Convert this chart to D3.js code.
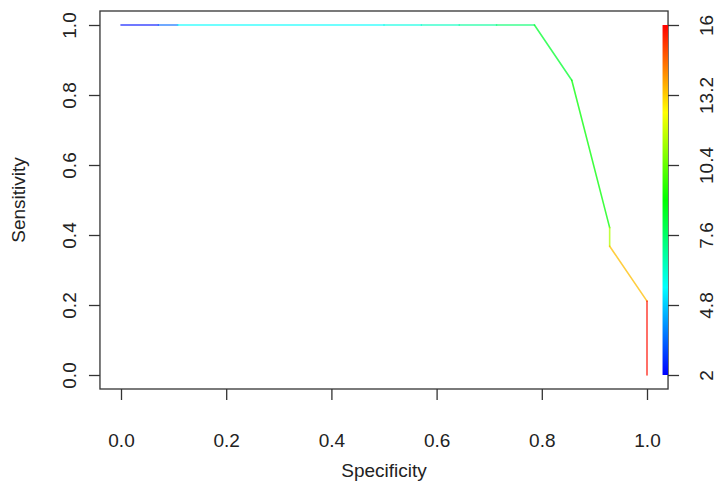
<!DOCTYPE html>
<html><head><meta charset="utf-8">
<script src="https://cdn.jsdelivr.net/npm/d3@7"></script>
<style>body{margin:0;background:#fff} text{font-family:"Liberation Sans",Arial,Helvetica,sans-serif;fill:#222}</style>
</head><body><svg id="c" width="717" height="492"></svg>
<script>
// ROC curve points (specificity, sensitivity), ordered from specificity 0 to 1
const specificity = [0, 0.071, 0.108, 0.5, 0.571, 0.643, 0.714, 0.786, 0.857, 0.929, 0.929, 1, 1];
const sensitivity = [1, 1, 1, 1, 1, 1, 1, 1, 0.842, 0.421, 0.368, 0.211, 0];
// cutoff value coloring each segment (between point i and i+1)
const segmentCutoff = [2.2, 3.4, 5.5, 5.9, 6.4, 6.9, 7.5, 8.4, 9.0, 11.4, 13.4, 15.8];
const xTicks = [0, 0.2, 0.4, 0.6, 0.8, 1.0];
const yTicks = [0, 0.2, 0.4, 0.6, 0.8, 1.0];
const cutoffTicks = [2, 4.8, 7.6, 10.4, 13.2, 16];
const cutoffRange = [2, 16];

const svg = d3.select("#c");
const x = d3.scaleLinear().domain([0, 1]).range([121, 647]);
const y = d3.scaleLinear().domain([0, 1]).range([375, 25]);
const cy = d3.scaleLinear().domain(cutoffRange).range([375, 25]);
const hue = d3.scaleLinear().domain(cutoffRange).range([240, 0]);
const col = v => d3.hsl(hue(v), 1, 0.5).toString();
const fs = 19;

// box
const bx0 = x(-0.04), bx1 = x(1.04), by0 = y(1.04), by1 = y(-0.04);
svg.append("rect").attr("x", bx0).attr("y", by0).attr("width", bx1 - bx0).attr("height", by1 - by0)
  .attr("fill", "none").attr("stroke", "#333").attr("stroke-width", 1.3);

// x axis
const gx = svg.append("g").attr("transform", `translate(0,${by1})`)
  .call(d3.axisBottom(x).tickValues(xTicks).tickFormat(d3.format(".1f")).tickSize(11));
gx.select(".domain").remove();
gx.selectAll("line").attr("stroke", "#333").attr("stroke-width", 1.3);
gx.selectAll("text").attr("font-size", fs).attr("fill", "#222").attr("dy", null).attr("y", 51).attr("dominant-baseline", "central");

// y axis
const gy = svg.append("g").attr("transform", `translate(${bx0},0)`)
  .call(d3.axisLeft(y).tickValues(yTicks).tickFormat(d3.format(".1f")).tickSize(11));
gy.select(".domain").remove();
gy.selectAll("line").attr("stroke", "#333").attr("stroke-width", 1.3);
gy.selectAll("text").attr("font-size", fs).attr("fill", "#222").attr("x", null).attr("dy", null)
  .attr("text-anchor", "middle").attr("dominant-baseline", "central")
  .attr("transform", "translate(-30,0) rotate(-90)");

// colorbar
const grad = svg.append("defs").append("linearGradient").attr("id", "rb")
  .attr("x1", 0).attr("y1", 1).attr("x2", 0).attr("y2", 0);
d3.range(0, 1.0001, 0.05).forEach(t => {
  grad.append("stop").attr("offset", t).attr("stop-color", col(cutoffRange[0] + t * (cutoffRange[1] - cutoffRange[0])));
});
svg.append("rect").attr("x", bx1 - 5.5).attr("y", cy(cutoffRange[1])).attr("width", 5.5)
  .attr("height", cy(cutoffRange[0]) - cy(cutoffRange[1])).attr("fill", "url(#rb)");

const gc = svg.append("g").attr("transform", `translate(${bx1},0)`)
  .call(d3.axisRight(cy).tickValues(cutoffTicks).tickFormat(d => String(d)).tickSize(11));
gc.select(".domain").remove();
gc.selectAll("line").attr("stroke", "#333").attr("stroke-width", 1.3);
gc.selectAll("text").attr("font-size", fs).attr("fill", "#222").attr("x", null).attr("dy", null)
  .attr("text-anchor", "middle").attr("dominant-baseline", "central")
  .attr("transform", "translate(38,0) rotate(-90)");

// curve
const segs = d3.range(specificity.length - 1);
svg.append("g").selectAll("line").data(segs).join("line")
  .attr("x1", i => x(specificity[i])).attr("y1", i => y(sensitivity[i]))
  .attr("x2", i => x(specificity[i + 1])).attr("y2", i => y(sensitivity[i + 1]))
  .attr("stroke", i => col(segmentCutoff[i])).attr("stroke-width", 1.6).attr("stroke-linecap", "round")
  .attr("stroke-opacity", 0.75);

// labels
svg.append("text").attr("x", 384).attr("y", 470).attr("text-anchor", "middle").attr("dominant-baseline", "central")
  .attr("font-size", fs).text("Specificity");
svg.append("text").attr("transform", "translate(18,200) rotate(-90)").attr("text-anchor", "middle")
  .attr("dominant-baseline", "central").attr("font-size", fs).text("Sensitivity");
</script></body></html>
